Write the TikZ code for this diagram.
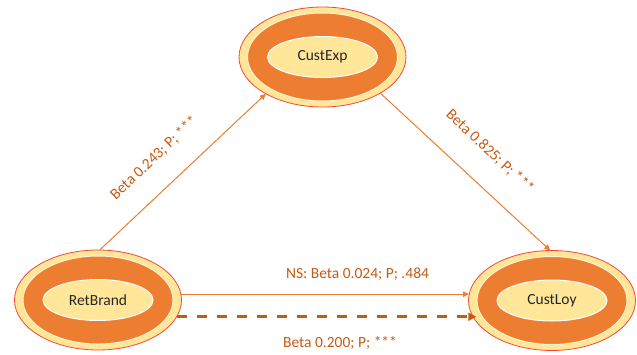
\documentclass[tikz,border=0pt]{standalone}
\usepackage{fontspec}
\setmainfont{Carlito}
\usetikzlibrary{shapes.geometric,arrows.meta,calc}
\definecolor{ringor}{HTML}{ED7D31}
\definecolor{pale}{HTML}{FFE699}
\definecolor{labc}{HTML}{C55A11}
\definecolor{rimred}{HTML}{F24A3A}
\begin{document}
\begin{tikzpicture}[x=1pt,y=-1pt,
  outerell/.style={ellipse, draw=rimred, line width=0.8pt, fill=pale,
    minimum width=167pt, minimum height=100pt, inner sep=0pt, outer sep=0pt},
  ringell/.style={ellipse, draw=white!55!pale, line width=1pt, fill=ringor,
    minimum width=150pt, minimum height=88pt, inner sep=0pt, outer sep=0pt},
  innerell/.style={ellipse, draw=white, line width=1pt, fill=pale,
    minimum width=110pt, minimum height=41pt, inner sep=0pt, outer sep=0pt,
    font=\fontsize{15.5}{18}\selectfont, text=black!85},
  lnk/.style={draw=ringor, line width=1pt, -{Triangle[length=6pt,width=5.5pt]}},
  dlnk/.style={draw=labc, line width=2.5pt, dash pattern=on 10pt off 10pt,
    -{Triangle[length=8pt,width=8pt]}},
  lab/.style={text=labc, font=\fontsize{15.5}{18}\selectfont, inner sep=0pt}
]
\useasboundingbox (0,0) rectangle (637,354);

% CustExp
\node[outerell] (ce) at (322.5,57) {};
\node[ringell] (ceR) at (ce.center) {};
\node[innerell] (ceI) at (ce.center) {CustExp};

% RetBrand
\node[outerell] (rb) at (98,300) {};
\node[ringell] (rbR) at (rb.center) {};
\node[innerell] (rbI) at (rb.center) {RetBrand};

% CustLoy
\node[outerell] (cl) at (552,300.5) {};
\node[ringell] (clR) at (cl.center) {};
\node[innerell] (clI) at (cl.center) {CustLoy};

% connectors
\coordinate (dashend) at ($(rb.-12.5 -| cl.192.5)+(3,0)$);
\draw[lnk] (rb.88) -- (ce.213);
\draw[lnk] (ce.328) -- (cl.92);
\draw[lnk] (rb.4) -- (rb.4 -| cl.176);
\draw[dlnk] (rb.-12.5) -- (dashend);

% labels
\node[lab, rotate=43.5] (l1) at (154,158) {Beta 0.243; P; ***};
\node[lab, rotate=-43] (l2) at (490,151.5) {Beta 0.825; P; ***};
\node[lab] (l3) at (357.5,274) {NS: Beta 0.024; P; .484};
\node[lab] (l4) at (340,343) {Beta 0.200; P; ***};
\end{tikzpicture}
\end{document}
